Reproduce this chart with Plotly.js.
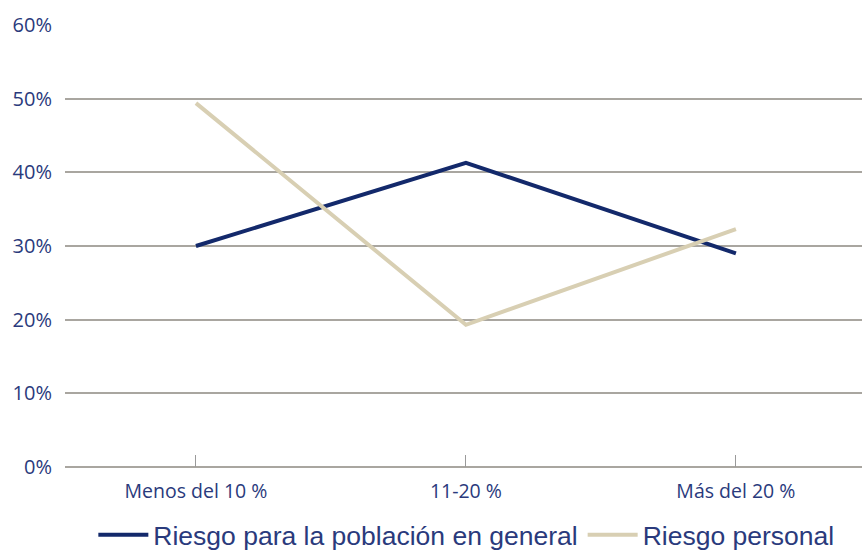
<!DOCTYPE html>
<html>
<head>
<meta charset="utf-8">
<script src="https://cdn.plot.ly/plotly-3.0.1.min.js"></script>
<style>html,body{margin:0;padding:0;background:#fff;}#chart{width:862px;height:559px;}</style>
</head>
<body>
<div id="chart"></div>
<script>
const categories = ["Menos del 10 %", "11-20 %", "Más del 20 %"];
const riesgoPoblacion = [30.0, 41.3, 29.0];
const riesgoPersonal = [49.4, 19.3, 32.3];
const yTickVals = [0, 10, 20, 30, 40, 50, 60];
const yTickText = ["0%", "10%", "20%", "30%", "40%", "50%", "60%"];
const seriesNames = ["Riesgo para la población en general", "Riesgo personal"];

const xIdx = categories.map((c, i) => i);
const navy = "#13296b";
const beige = "#d8cfb3";
const textColor = "#2a3a7c";

const traces = [
  {x: xIdx, y: riesgoPoblacion, name: seriesNames[0], type: "scatter", mode: "lines",
   line: {color: navy, width: 4}},
  {x: xIdx, y: riesgoPersonal, name: seriesNames[1], type: "scatter", mode: "lines",
   line: {color: beige, width: 4}}
];

const layout = {
  width: 862, height: 559,
  margin: {l: 65, r: 0, t: 25, b: 92},
  paper_bgcolor: "#ffffff", plot_bgcolor: "#ffffff",
  font: {family: "Open Sans, sans-serif", color: textColor},
  showlegend: true,
  legend: {orientation: "h", x: 0.541, xanchor: "center", xref: "container",
           y: -0.018, yanchor: "bottom", yref: "container",
           font: {family: "Liberation Sans, Arial, sans-serif", size: 26.5, color: textColor},
           itemwidth: 50, tracegroupgap: 0},
  xaxis: {
    range: [-0.485, 2.467], tickvals: xIdx, ticktext: categories,
    ticks: "inside", ticklen: 12, tickcolor: "#9a9a9a", tickwidth: 1,
    showgrid: false, zeroline: false, showline: false,
    tickfont: {size: 19.5, color: textColor}, ticklabelstandoff: 10, fixedrange: true,
    automargin: false
  },
  yaxis: {
    range: [0, 60], tickvals: yTickVals, ticktext: yTickText,
    showgrid: true, gridcolor: "#a9a6a0", gridwidth: 2,
    zeroline: true, zerolinecolor: "#a9a6a0", zerolinewidth: 2,
    showline: false, ticks: "",
    tickfont: {size: 20, color: textColor}, ticklabelstandoff: 12, fixedrange: true,
    automargin: false
  }
};

Plotly.newPlot("chart", traces, layout, {displayModeBar: false, staticPlot: true});
</script>
</body>
</html>
